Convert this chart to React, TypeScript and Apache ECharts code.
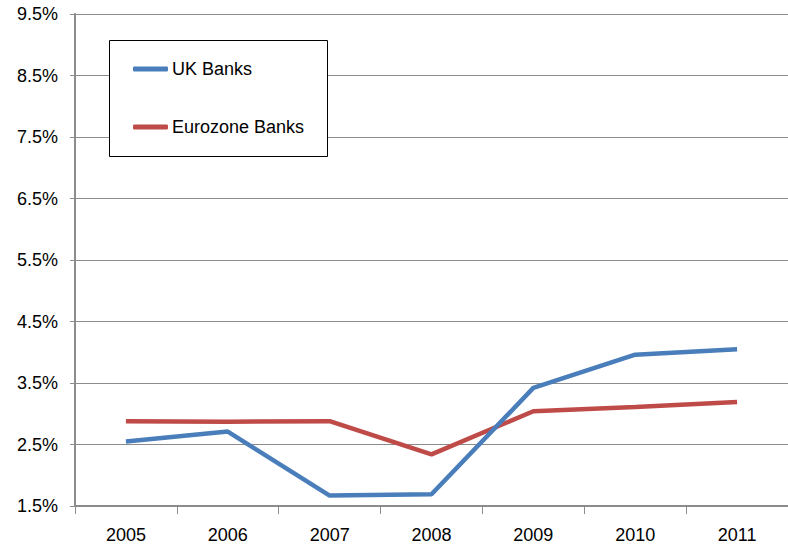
import React, { useEffect, useRef } from "react";
import * as echarts from "echarts";

const years = ["2005", "2006", "2007", "2008", "2009", "2010", "2011"];
const ukBanks = [2.55, 2.71, 1.67, 1.69, 3.42, 3.96, 4.05];
const eurozoneBanks = [2.88, 2.87, 2.88, 2.34, 3.04, 3.11, 3.19];
const yMin = 1.5;
const yMax = 9.5;
const yStep = 1;

const FONT = "'Liberation Sans Narrow', 'Arial Narrow', 'Liberation Sans', Arial, sans-serif";

export default function App() {
  const ref = useRef<HTMLDivElement>(null);
  useEffect(() => {
    document.body.style.margin = "0";
    const chart = echarts.init(ref.current!, null, { renderer: "svg" });
    chart.setOption({
      animation: false,
      backgroundColor: "#ffffff",
      grid: { left: 75, top: 14, width: 716, height: 492, containLabel: false },
      xAxis: {
        type: "category",
        data: years,
        boundaryGap: true,
        axisLine: { lineStyle: { color: "#8c8c8c", width: 2 } },
        axisTick: { show: true, length: 8, lineStyle: { color: "#8c8c8c", width: 1 } },
        axisLabel: { fontFamily: FONT, fontSize: 18, color: "#000", margin: 20 },
        splitLine: { show: false },
      },
      yAxis: {
        type: "value",
        min: yMin,
        max: yMax,
        interval: yStep,
        axisLine: { show: true, lineStyle: { color: "#8c8c8c", width: 2 } },
        axisTick: { show: true, length: 5, lineStyle: { color: "#8c8c8c", width: 1 } },
        axisLabel: {
          fontFamily: FONT,
          fontSize: 18,
          color: "#000",
          margin: 17,
          formatter: (v: number) => v.toFixed(1) + "%",
        },
        splitLine: { show: true, lineStyle: { color: "#8c8c8c", width: 1 } },
      },
      legend: {
        left: 128,
        top: 55,
        orient: "vertical",
        itemWidth: 35,
        itemHeight: 5,
        itemGap: 40,
        icon: "roundRect",
        textStyle: { fontFamily: FONT, fontSize: 18, color: "#000", padding: [0, 0, 0, -1] },
        data: ["UK Banks", "Eurozone Banks"],
      },
      graphic: [
        {
          type: "rect",
          shape: { x: 109.5, y: 40.5, width: 218, height: 116 },
          style: { fill: "#fff", stroke: "#000", lineWidth: 1 },
          z: 3,
          silent: true,
        },
      ],
      series: [
        {
          name: "UK Banks",
          type: "line",
          data: ukBanks,
          symbol: "none",
          lineStyle: { color: "#4a7ebb", width: 4.5 },
          itemStyle: { color: "#4a7ebb" },
          z: 3,
        },
        {
          name: "Eurozone Banks",
          type: "line",
          data: eurozoneBanks,
          symbol: "none",
          lineStyle: { color: "#be4b48", width: 4.5 },
          itemStyle: { color: "#be4b48" },
          z: 2,
        },
      ],
    });
    return () => chart.dispose();
  }, []);
  return <div ref={ref} style={{ width: 788, height: 546 }} />;
}
